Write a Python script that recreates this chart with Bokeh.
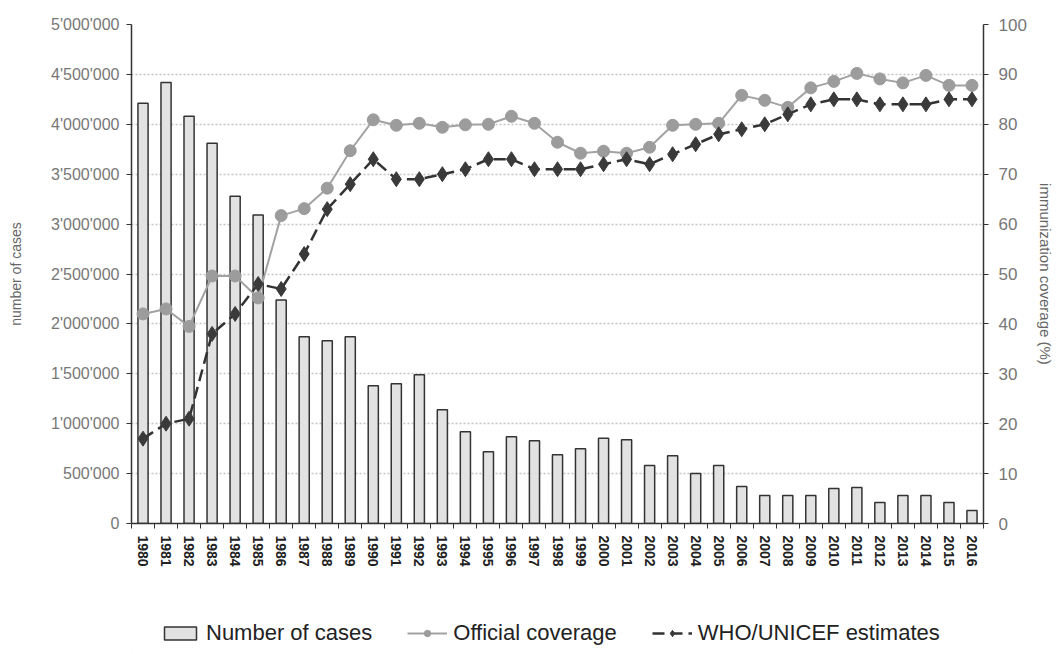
from bokeh.plotting import figure
from bokeh.models import (Range1d, LinearAxis, FixedTicker, Legend, LegendItem)
from bokeh.layouts import column
from bokeh.embed import file_html
from bokeh.resources import INLINE

years = [1980, 1981, 1982, 1983, 1984, 1985, 1986, 1987, 1988, 1989,
         1990, 1991, 1992, 1993, 1994, 1995, 1996, 1997, 1998, 1999,
         2000, 2001, 2002, 2003, 2004, 2005, 2006, 2007, 2008, 2009,
         2010, 2011, 2012, 2013, 2014, 2015, 2016]
cases = [4210000, 4420000, 4080000, 3810000, 3280000, 3090000, 2240000, 1870000, 1830000, 1870000,
         1380000, 1400000, 1490000, 1140000, 920000, 720000, 870000, 830000, 690000, 750000,
         855000, 840000, 580000, 680000, 500000, 580000, 370000, 280000, 280000, 280000,
         350000, 360000, 210000, 280000, 280000, 210000, 130000]
official = [42, 43, 39.5, 49.6, 49.6, 45.2, 61.7, 63.1, 67.2, 74.7,
            80.9, 79.8, 80.2, 79.4, 79.9, 80, 81.6, 80.2, 76.4, 74.2,
            74.6, 74.2, 75.4, 79.8, 80, 80.2, 85.8, 84.8, 83.4, 87.3,
            88.6, 90.2, 89.1, 88.3, 89.8, 87.8, 87.8]
who = [17, 20, 21, 38, 42, 48, 47, 54, 63, 68,
       73, 69, 69, 70, 71, 73, 73, 71, 71, 71,
       72, 73, 72, 74, 76, 78, 79, 80, 82, 84,
       85, 85, 84, 84, 84, 85, 85]
left_ticks = [0, 500000, 1000000, 1500000, 2000000, 2500000, 3000000, 3500000, 4000000, 4500000, 5000000]
right_ticks = [0, 10, 20, 30, 40, 50, 60, 70, 80, 90, 100]
labels = ["Number of cases", "Official coverage", "WHO/UNICEF estimates"]

FONT = "Liberation Sans"
W = 1056

p = figure(width=W, height=600, output_backend="svg", toolbar_location=None,
           x_range=Range1d(years[0] - 0.5, years[-1] + 0.5),
           y_range=Range1d(0, 5000000),
           min_border_left=131, min_border_right=W - 988, min_border_top=24,
           min_border_bottom=600 - 523)
p.outline_line_color = None
p.xgrid.grid_line_color = None
p.ygrid.grid_line_color = "#c4c4c4"
p.ygrid.grid_line_dash = "2 2"
p.ygrid.grid_line_width = 1.5
p.ygrid.ticker = FixedTicker(ticks=left_ticks)

# x axis
xa = p.xaxis[0]
xa.ticker = FixedTicker(ticks=years, minor_ticks=[y - 0.5 for y in years] + [years[-1] + 0.5])
xa.major_label_overrides = {y: str(y) for y in years}
xa.major_tick_in = 0
xa.major_tick_out = 0
xa.minor_tick_in = 0
xa.minor_tick_out = 5
xa.minor_tick_line_color = "#333333"
xa.axis_line_color = "#333333"
xa.axis_line_width = 1.5
xa.major_label_orientation = "vertical"
xa.major_label_text_font = FONT
xa.major_label_text_font_style = "bold"
xa.major_label_text_font_size = "14px"
xa.major_label_text_color = "#222222"
xa.major_label_standoff = 7

# left axis
ya = p.yaxis[0]
ya.ticker = FixedTicker(ticks=left_ticks)
ya.major_label_overrides = {t: f"{t:,}".replace(",", "'") for t in left_ticks}
ya.minor_tick_line_color = None
ya.major_tick_in = 0
ya.major_tick_out = 5
ya.major_tick_line_color = "#333333"
ya.axis_line_color = "#333333"
ya.axis_line_width = 1.5
ya.major_label_text_font = FONT
ya.major_label_text_font_size = "16px"
ya.major_label_text_color = "#777777"
ya.major_label_standoff = 7
ya.axis_label = "number of cases"
ya.axis_label_text_font = FONT
ya.axis_label_text_font_style = "normal"
ya.axis_label_text_font_size = "14px"
ya.axis_label_text_color = "#666666"
ya.axis_label_standoff = 24

# right axis
p.extra_y_ranges = {"cov": Range1d(0, 100)}
ra = LinearAxis(y_range_name="cov", ticker=FixedTicker(ticks=right_ticks))
ra.minor_tick_line_color = None
ra.major_tick_in = 0
ra.major_tick_out = 5
ra.major_tick_line_color = "#333333"
ra.axis_line_color = "#333333"
ra.axis_line_width = 1.5
ra.major_label_text_font = FONT
ra.major_label_text_font_size = "17px"
ra.major_label_text_color = "#777777"
ra.major_label_standoff = 10
ra.axis_label = "immunization coverage (%)"
ra.axis_label_text_font = FONT
ra.axis_label_text_font_style = "normal"
ra.axis_label_text_font_size = "15px"
ra.axis_label_text_color = "#666666"
ra.axis_label_standoff = 7
p.add_layout(ra, "right")

BAR = dict(fill_color="#e2e2e2", line_color="#333333", line_width=1.5)
OL = dict(line_color="#a2a2a2", line_width=2)
OM = dict(marker="circle", size=12, fill_color="#9c9c9c", line_color="#9c9c9c")
WL = dict(line_color="#333333", line_width=2.5, line_dash="12 6")
WM = dict(marker="diamond", size=15, fill_color="#3a3a3a", line_color="#3a3a3a")

p.vbar(x=years, top=cases, width=0.44, **BAR)
p.line(x=years, y=official, y_range_name="cov", **OL)
p.scatter(x=years, y=official, y_range_name="cov", **OM)
p.line(x=years, y=who, y_range_name="cov", **WL)
p.scatter(x=years, y=who, y_range_name="cov", **WM)

# legend strip below the chart (its sample glyphs sit outside the visible range)
q = figure(width=W, height=52, output_backend="svg", toolbar_location=None,
           x_range=Range1d(0, 1), y_range=Range1d(0, 1),
           min_border_left=0, min_border_right=0, min_border_top=0, min_border_bottom=0,
           x_axis_location=None, y_axis_location=None)
q.outline_line_color = None
q.grid.grid_line_color = None
rb = q.vbar(x=[-10], top=[-10], width=0.4, **BAR)
r1 = q.line(x=[-10, -11], y=[-10, -11], **OL)
r1m = q.scatter(x=[-10], y=[-10], **OM)
r2 = q.line(x=[-10, -11], y=[-10, -11], **WL)
r2m = q.scatter(x=[-10], y=[-10], **WM)
legend = Legend(items=[
    LegendItem(label=labels[0], renderers=[rb]),
    LegendItem(label=labels[1], renderers=[r1, r1m]),
    LegendItem(label=labels[2], renderers=[r2, r2m]),
], orientation="horizontal", location=(29, 6))
legend.border_line_color = None
legend.background_fill_alpha = 0
legend.padding = 0
legend.margin = 0
legend.spacing = 35
legend.glyph_width = 40
legend.glyph_height = 16
legend.label_standoff = 6
legend.label_text_font = FONT
legend.label_text_font_size = "22px"
legend.label_text_color = "#222222"
q.add_layout(legend, "center")

layout = column(p, q, spacing=0)

with open("out.html", "w") as f:
    f.write(file_html(layout, INLINE))
